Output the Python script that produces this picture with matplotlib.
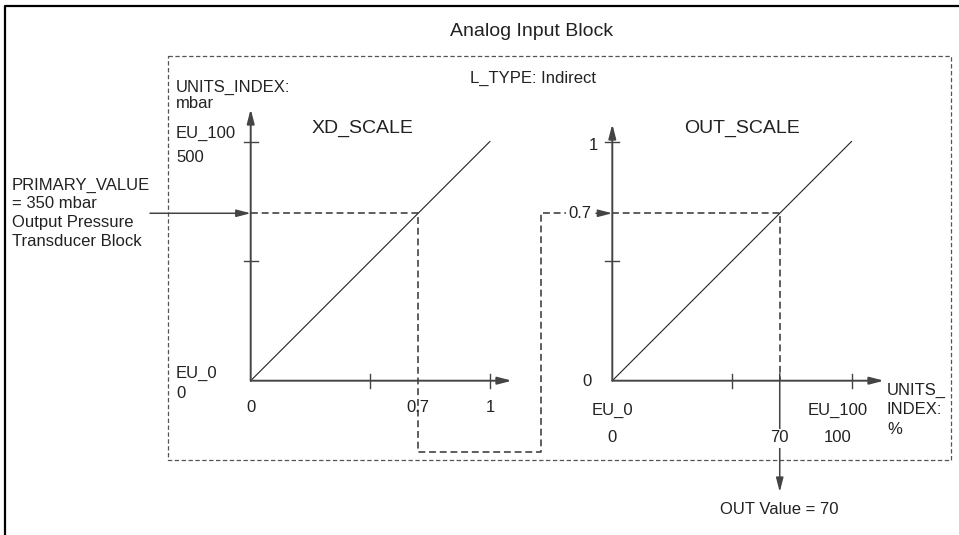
import matplotlib
matplotlib.use("Agg")
import matplotlib.pyplot as plt

plt.rcParams['font.family'] = ['Liberation Sans', 'DejaVu Sans']

# ---- data ----
xd_x_ticks = [0, 0.5, 1]
xd_x_labels = ["0", "0.7", "1"]
xd_x_label_vals = [0, 0.7, 1]
xd_y_ticks = [0, 250, 500]
xd_eu = [0, 500]            # EU_0, EU_100 in mbar
out_x_ticks = [0, 50, 100]
out_y_ticks = [0, 0.5, 1]
out_eu = [0, 100]           # EU_0, EU_100 in %
primary_value = 350         # mbar
fraction = primary_value / xd_eu[1]   # 0.7
out_value = 70

# ---- layout (pixel space) ----
W, H = 959, 535
fig = plt.figure(figsize=(W / 100, H / 100), dpi=100)
ax = fig.add_axes([0, 0, 1, 1])
ax.set_xlim(0, W)
ax.set_ylim(H, 0)
ax.axis('off')

AX_C = '#444444'
TXT_C = '#222222'
DASH_C = '#333333'
FS = 12

xd_o = (250.7, 380.7)
out_o = (612.3, 380.7)
SPAN = 239.2


def xd(x, y):
    return xd_o[0] + x * SPAN, xd_o[1] - (y / xd_eu[1]) * SPAN


def outp(x, y):
    return out_o[0] + (x / out_eu[1]) * SPAN, out_o[1] - y * SPAN


def arrow(p0, p1, lw=1.4, color=AX_C):
    ax.annotate('', xy=p1, xytext=p0,
                arrowprops=dict(arrowstyle='-|>,head_length=0.85,head_width=0.22',
                                color=color, lw=lw, shrinkA=0, shrinkB=0,
                                mutation_scale=10))


def text(x, y, s, ha='left', va='center', fs=FS, **kw):
    ax.text(x, y, s, ha=ha, va=va, fontsize=fs, color=TXT_C, **kw)


# outer frame
ax.plot([5, 5, 965], [540, 6, 6], color='black', lw=1.6, solid_capstyle='projecting')
text(532, 32, "Analog Input Block", ha='center', fs=14)

# dashed block
ax.plot([168, 951, 951, 168, 168], [56, 56, 460, 460, 56], color='#555555',
        lw=0.9, dashes=(3.5, 2))
text(470, 78, "L_TYPE: Indirect")

# ---- XD scale ----
x0, y0 = xd(0, 0)
arrow((x0, y0), (x0, 109))
arrow((x0, y0), (512, y0))
for t in xd_y_ticks[1:]:
    _, yy = xd(0, t)
    ax.plot([x0 - 7, x0 + 7], [yy, yy], color=AX_C, lw=1.0)
for t in xd_x_ticks[1:]:
    xx, _ = xd(t, 0)
    ax.plot([xx, xx], [y0 - 7, y0 + 7], color=AX_C, lw=1.0)
ax.plot(*zip(xd(0, 0), xd(1, xd_eu[1])), color='#222222', lw=0.8)
text(362, 128, "XD_SCALE", ha='center', fs=14)
text(176, 87, "UNITS_INDEX:")
text(176, 104, "mbar")
text(176, 133, "EU_100")
text(176, 157, str(xd_eu[1]))
text(176, 373, "EU_0")
text(176, 394, str(xd_eu[0]))
for v, s in zip(xd_x_label_vals, xd_x_labels):
    xx, _ = xd(v, 0)
    text(xx, 408, s, ha='center')

# primary value input
text(12, 185, "PRIMARY_VALUE")
text(12, 203, "= 350 mbar")
text(12, 222, "Output Pressure")
text(12, 241, "Transducer Block")
px, py = xd(0, primary_value)
arrow((150, py), (px, py), lw=1.1)

# dashed connector
cx, cy = xd(fraction, primary_value)
ox, oy = outp(0, fraction)
ax.plot([px, cx, cx, 541, 541, 566], [py, cy, 452, 452, oy, oy],
        color=DASH_C, lw=1.1, dashes=(4.5, 2.5))
text(580, oy, "0.7", ha='center')
arrow((596, oy), (ox, oy), lw=1.1)

# ---- OUT scale ----
x1, y1 = outp(0, 0)
arrow((x1, y1), (x1, 124))
arrow((x1, y1), (884, y1))
for t in out_y_ticks[1:]:
    _, yy = outp(0, t)
    ax.plot([x1 - 7, x1 + 7], [yy, yy], color=AX_C, lw=1.0)
for t in out_x_ticks[1:]:
    xx, _ = outp(t, 0)
    ax.plot([xx, xx], [y1 - 7, y1 + 7], color=AX_C, lw=1.0)
ax.plot(*zip(outp(0, 0), outp(out_eu[1], 1)), color='#222222', lw=0.8)
text(742, 128, "OUT_SCALE", ha='center', fs=14)

vx, vy = outp(out_value, fraction)
ax.plot([ox, vx, vx], [oy, vy, y1], color=DASH_C, lw=1.1, dashes=(4.5, 2.5))
arrow((vx, y1 - 7), (vx, 492), lw=1.1)

text(598, 145, "1", ha='right')
text(592, 381, "0", ha='right')
text(x1, 410, "EU_0", ha='center')
text(x1, 438, str(out_eu[0]), ha='center')
text(vx, 438, str(out_value), ha='center',
     bbox=dict(facecolor='white', edgecolor='none', pad=1.5))
text(838, 410, "EU_100", ha='center')
text(838, 438, str(out_eu[1]), ha='center')
text(887, 390, "UNITS_")
text(887, 410, "INDEX:")
text(887, 430, "%")
text(vx, 509, f"OUT Value = {out_value}", ha='center')

fig.savefig("out.png", dpi=100)
